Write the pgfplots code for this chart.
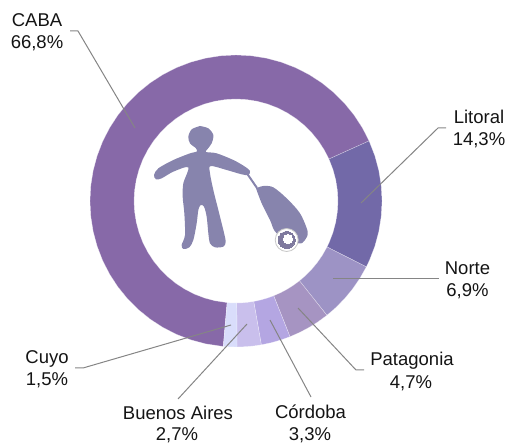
\documentclass[border=0pt]{standalone}
\usepackage{pgfplots}
\pgfplotsset{compat=1.18}
\usepackage{fontspec}
\setmainfont{Liberation Sans}
\definecolor{caba}{HTML}{8769A8}
\definecolor{lito}{HTML}{7269A8}
\definecolor{nort}{HTML}{9D93C5}
\definecolor{pata}{HTML}{A694C2}
\definecolor{cord}{HTML}{B4A6E2}
\definecolor{baires}{HTML}{C9BFEC}
\definecolor{cuyo}{HTML}{D9DDFB}
\definecolor{pers}{HTML}{8784AD}
\definecolor{wheel}{HTML}{7F7A9E}
\definecolor{lead}{HTML}{858585}
\pgfplotsset{
  seg/.style={fill=#1, draw=white, draw opacity=0.5, line width=0.4pt, data cs=polar},
  leader/.style={draw=lead, line width=1pt, line join=round},
  shape/.style={fill=pers, draw=none, smooth, tension=0.5},
}
\newcommand{\lbl}[3]{\node[anchor=base, inner sep=0pt, font=\fontsize{18.5}{22}\selectfont, text=black!92] at (axis cs:#1,#2) {#3};}
\begin{document}
\begin{tikzpicture}
\begin{axis}[
  scale only axis, width=508pt, height=444pt,
  xmin=-236, xmax=272, ymin=-243, ymax=201,
  hide axis, clip=false,
]
\path (rel axis cs:0,0) rectangle (rel axis cs:1,1);
% ring segments: (angle, radius)
\addplot[seg=caba] coordinates {
 (24.3,146)(30,146)(36,146)(42,146)(48,146)(54,146)(60,146)(66,146)(72,146)(78,146)(84,146)(90,146)(96,146)(102,146)(108,146)(114,146)(120,146)(126,146)(132,146)(138,146)(144,146)(150,146)(156,146)(162,146)(168,146)(174,146)(180,146)(186,146)(192,146)(198,146)(204,146)(210,146)(216,146)(222,146)(228,146)(234,146)(240,146)(246,146)(252,146)(258,146)(265,146)
 (265,102)(258,102)(252,102)(246,102)(240,102)(234,102)(228,102)(222,102)(216,102)(210,102)(204,102)(198,102)(192,102)(186,102)(180,102)(174,102)(168,102)(162,102)(156,102)(150,102)(144,102)(138,102)(132,102)(126,102)(120,102)(114,102)(108,102)(102,102)(96,102)(90,102)(84,102)(78,102)(72,102)(66,102)(60,102)(54,102)(48,102)(42,102)(36,102)(30,102)(24.3,102)
} -- cycle;
\addplot[seg=lito] coordinates {
 (24.3,146)(18,146)(12,146)(6,146)(0,146)(-6,146)(-12,146)(-18,146)(-24,146)(-26.8,146)
 (-26.8,102)(-24,102)(-18,102)(-12,102)(-6,102)(0,102)(6,102)(12,102)(18,102)(24.3,102)
} -- cycle;
\addplot[seg=nort] coordinates {
 (-26.8,146)(-32,146)(-37,146)(-42,146)(-47,146)(-51.5,146)
 (-51.5,102)(-47,102)(-42,102)(-37,102)(-32,102)(-26.8,102)
} -- cycle;
\addplot[seg=pata] coordinates {
 (-51.5,146)(-56,146)(-60,146)(-64,146)(-68.3,146)
 (-68.3,102)(-64,102)(-60,102)(-56,102)(-51.5,102)
} -- cycle;
\addplot[seg=cord] coordinates {
 (-68.3,146)(-72,146)(-76,146)(-80,146)
 (-80,102)(-76,102)(-72,102)(-68.3,102)
} -- cycle;
\addplot[seg=baires] coordinates {
 (-80,146)(-83,146)(-86,146)(-89.6,146)
 (-89.6,102)(-86,102)(-83,102)(-80,102)
} -- cycle;
\addplot[seg=cuyo] coordinates {
 (-89.6,146)(-92,146)(-95,146)
 (-95,102)(-92,102)(-89.6,102)
} -- cycle;
% leader lines (x - 236, 201 - y)
\addplot[leader] coordinates {(-166,170)(-158,170)(-101,73)};
\addplot[leader] coordinates {(210,73)(202,73)(125,-2)};
\addplot[leader] coordinates {(203,-78)(97,-78)};
\addplot[leader] coordinates {(128,-169)(120,-169)(62,-107)};
\addplot[leader] coordinates {(75,-196)(34,-119)};
\addplot[leader] coordinates {(-58,-198)(11,-123)};
\addplot[leader] coordinates {(-161,-167)(-153,-167)(-5,-124)};
% pictogram
\addplot[shape] table[x expr=\thisrowno{0}/3-106, y expr=91-\thisrowno{1}/3] {
210 48
235 55
250 75
245 100
232 118
228 126
260 130
310 150
345 170
360 183
355 195
335 193
290 180
242 168
240 190
250 240
265 300
280 360
287 395
280 410
255 412
240 400
235 370
230 320
222 290
212 285
205 300
200 340
190 390
178 412
160 417
155 405
165 375
163 310
158 260
160 220
175 172
130 185
95 205
78 208
72 195
85 175
130 150
180 130
200 125
198 115
180 100
175 80
185 58
210 48
};
\addplot[draw=pers, line width=2pt] coordinates {(10.7,28)(21,13)};
\addplot[shape] table[x expr=\thisrowno{0}/3-106, y expr=91-\thisrowno{1}/3] {
378 235
400 228
430 232
470 265
510 310
533 365
525 390
505 400
440 370
420 330
395 280
378 235
};
\addplot[only marks, color=black!22, mark=*, mark size=11.5pt, mark options={fill=white, draw=black!22, line width=0.8pt}] coordinates {(50.7,-39)};
\addplot[only marks, color=wheel, mark=*, mark size=8.5pt, mark options={fill=wheel, draw=wheel, line width=0pt}] coordinates {(50.7,-39)};
\addplot[only marks, color=white, mark=*, mark size=4.5pt, mark options={fill=white, draw=white, line width=0pt}] coordinates {(52,-38)};
% labels
\lbl{-199}{174}{CABA}
\lbl{-199}{152}{66,8\%}
\lbl{243}{77}{Litoral}
\lbl{243}{55}{14,3\%}
\lbl{231.5}{-74}{Norte}
\lbl{231.5}{-96}{6,9\%}
\lbl{176}{-165}{Patagonia}
\lbl{175}{-187}{4,7\%}
\lbl{-189}{-163}{Cuyo}
\lbl{-189}{-185}{1,5\%}
\lbl{-58}{-218}{Buenos Aires}
\lbl{-59}{-239.5}{2,7\%}
\lbl{74.5}{-217}{Córdoba}
\lbl{74}{-239}{3,3\%}
\end{axis}
\end{tikzpicture}
\end{document}
